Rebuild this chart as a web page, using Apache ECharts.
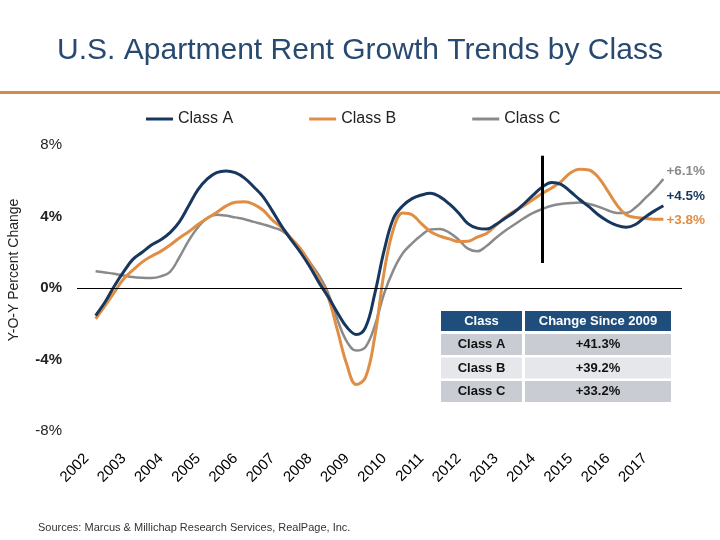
<!doctype html>
<html>
<head>
<meta charset="utf-8">
<title>U.S. Apartment Rent Growth Trends by Class</title>
<script src="https://cdn.jsdelivr.net/npm/echarts@6/dist/echarts.min.js"></script>
<style>
  html, body { margin: 0; padding: 0; background: #fff; }
  #chart { width: 720px; height: 540px; }
</style>
</head>
<body>
<div id="chart"></div>
<script>
// quarterly y-o-y rent growth (%), 2002 Q1 .. 2017 Q2
var firstYear = 2002;
var yearLabels = [2002, 2003, 2004, 2005, 2006, 2007, 2008, 2009, 2010, 2011, 2012, 2013, 2014, 2015, 2016, 2017];
var classA = [
  -1.54, -0.8, 0.1, 0.9, 1.6, 2.0, 2.4, 2.7, 3.1, 3.7, 4.6, 5.5,
  6.1, 6.45, 6.55, 6.45, 6.15, 5.65, 5.1, 4.3, 3.45, 2.7, 2.0, 1.2,
  0.3, -0.5, -1.4, -2.2, -2.6, -2.2, -0.3, 2.1, 3.9, 4.6, 5.0, 5.2,
  5.3, 5.1, 4.7, 4.2, 3.6, 3.35, 3.3, 3.55, 3.9, 4.25, 4.7, 5.2,
  5.65, 5.9, 5.8, 5.4, 4.95, 4.55, 4.1, 3.75, 3.5, 3.4, 3.55, 3.95,
  4.3, 4.6
];
var classB = [
  -1.72, -1.0, -0.25, 0.5, 1.0, 1.45, 1.78, 2.05, 2.4, 2.8, 3.15, 3.55,
  3.9, 4.22, 4.58, 4.8, 4.83, 4.68, 4.35, 3.8, 3.38, 2.78, 2.2, 1.4,
  0.5, -0.55, -2.4, -4.3, -5.4, -5.0, -2.7, 0.9, 3.3, 4.2, 4.1, 3.6,
  3.15, 2.9, 2.75, 2.6, 2.62, 2.85, 3.05, 3.5, 3.95, 4.3, 4.6, 4.95,
  5.3, 5.6, 5.95, 6.44, 6.65, 6.6, 6.2, 5.45, 4.65, 4.1, 3.95, 3.9,
  3.85, 3.85
];
var classC = [
  0.94, 0.87, 0.8, 0.7, 0.61, 0.57, 0.56, 0.65, 0.9, 1.72, 2.65, 3.4,
  3.92, 4.1, 4.05, 3.95, 3.85, 3.7, 3.56, 3.4, 3.2, 2.78, 2.2, 1.45,
  0.7, -0.3, -1.8, -3.0, -3.5, -3.3, -2.1, -0.3, 1.0, 1.94, 2.5, 2.95,
  3.28, 3.3, 3.1, 2.7, 2.2, 2.05, 2.35, 2.8, 3.2, 3.55, 3.9, 4.2,
  4.42, 4.6, 4.7, 4.75, 4.78, 4.7, 4.55, 4.35, 4.2, 4.2, 4.5, 5.0,
  5.5, 6.1
];
var seriesNames = ['Class A', 'Class B', 'Class C'];
var endLabels = ['+4.5%', '+3.8%', '+6.1%'];
var markerYear = 2014;
var markerRange = [1.4, 7.4];

var tableHeader = ['Class', 'Change Since 2009'];
var tableClasses = ['Class A', 'Class B', 'Class C'];
var tableChanges = ['+41.3%', '+39.2%', '+33.2%'];

var colors = ['#17375e', '#e08e45', '#8a8a8a'];
var font = 'Liberation Sans, Arial, sans-serif';

function toPoints(arr) {
  return arr.map(function (v, i) { return [firstYear + i / 4, v]; });
}

var chart = echarts.init(document.getElementById('chart'));

// table graphics
var table = [];
var tx = 441, tw1 = 81, tw2 = 146, gap = 3, th = 20, rh = 21;
var headFont = 'bold 13px ' + font;
var cellFont = 'bold 13px ' + font;
table.push({ type: 'rect', shape: { x: tx, y: 311, width: tw1, height: th }, style: { fill: '#1f4e7d' } });
table.push({ type: 'rect', shape: { x: tx + tw1 + gap, y: 311, width: tw2, height: th }, style: { fill: '#1f4e7d' } });
table.push({ type: 'text', x: tx + tw1 / 2, y: 311 + th / 2, style: { text: tableHeader[0], fill: '#fff', font: headFont, align: 'center', verticalAlign: 'middle' } });
table.push({ type: 'text', x: tx + tw1 + gap + tw2 / 2, y: 311 + th / 2, style: { text: tableHeader[1], fill: '#fff', font: headFont, align: 'center', verticalAlign: 'middle' } });
tableClasses.forEach(function (c, i) {
  var y = 334 + i * (rh + 2.5);
  var bg = i === 1 ? '#e6e7ea' : '#c9ccd2';
  table.push({ type: 'rect', shape: { x: tx, y: y, width: tw1, height: rh }, style: { fill: bg } });
  table.push({ type: 'rect', shape: { x: tx + tw1 + gap, y: y, width: tw2, height: rh }, style: { fill: bg } });
  table.push({ type: 'text', x: tx + tw1 / 2, y: y + rh / 2, style: { text: c, fill: '#111', font: cellFont, align: 'center', verticalAlign: 'middle' } });
  table.push({ type: 'text', x: tx + tw1 + gap + tw2 / 2, y: y + rh / 2, style: { text: tableChanges[i], fill: '#111', font: cellFont, align: 'center', verticalAlign: 'middle' } });
});

var option = {
  animation: false,
  color: colors,
  title: {
    text: 'U.S. Apartment Rent Growth Trends by Class',
    left: 'center',
    top: 31,
    textStyle: { fontFamily: font, fontSize: 30, fontWeight: 'normal', color: '#284a70' }
  },
  legend: {
    data: seriesNames,
    left: 141,
    top: 106,
    icon: 'rect',
    itemWidth: 27,
    itemHeight: 3,
    itemGap: 76,
    textStyle: { fontFamily: font, fontSize: 16, color: '#222' }
  },
  grid: { left: 77, right: 38, top: 145, bottom: 109 },
  xAxis: {
    type: 'value',
    min: 2001.5,
    max: 2017.75,
    interval: 0.5,
    axisLine: { show: false },
    axisTick: { show: false },
    splitLine: { show: false },
    axisLabel: {
      rotate: 45,
      margin: 16,
      padding: [0, 13, 0, 0],
      fontFamily: font,
      fontSize: 15,
      color: '#000',
      formatter: function (v) {
        return yearLabels.indexOf(v) >= 0 ? String(v) : '';
      }
    }
  },
  yAxis: {
    type: 'value',
    min: -8,
    max: 8,
    interval: 4,
    axisLine: { show: false },
    axisTick: { show: false },
    splitLine: { show: false },
    axisLabel: {
      margin: 15,
      formatter: function (v) {
        return (v === 8 || v === -8) ? '{n|' + v + '%}' : '{b|' + v + '%}';
      },
      rich: {
        n: { fontFamily: font, fontSize: 15, color: '#222' },
        b: { fontFamily: font, fontSize: 15, color: '#222', fontWeight: 'bold' }
      }
    }
  },
  graphic: [
    { type: 'rect', shape: { x: 0, y: 91, width: 720, height: 3 }, style: { fill: '#d38a4c' } },
    {
      type: 'text', x: 14, y: 270, rotation: Math.PI / 2,
      style: { text: 'Y-O-Y Percent Change', fill: '#222', font: '14px ' + font, align: 'center', verticalAlign: 'middle' }
    },
    {
      type: 'text', x: 38, y: 522,
      style: { text: 'Sources: Marcus & Millichap Research Services, RealPage, Inc.', fill: '#333', font: '11px ' + font }
    }
  ].concat(table),
  series: [
    {
      name: seriesNames[0], type: 'line', data: toPoints(classA), smooth: 0.4,
      showSymbol: false, z: 4,
      lineStyle: { width: 3, color: colors[0] },
      endLabel: { show: true, formatter: endLabels[0], color: colors[0], fontFamily: font, fontWeight: 'bold', fontSize: 13.5, offset: [0, -9], distance: 3 },
      markLine: {
        silent: true, symbol: 'none', label: { show: false },
        data: [
          { yAxis: 0, lineStyle: { color: '#000', width: 1, type: 'solid' } },
          [
            { coord: [markerYear, markerRange[1]], lineStyle: { color: '#000', width: 3, type: 'solid' } },
            { coord: [markerYear, markerRange[0]] }
          ]
        ]
      }
    },
    {
      name: seriesNames[1], type: 'line', data: toPoints(classB), smooth: 0.4,
      showSymbol: false, z: 3,
      lineStyle: { width: 3, color: colors[1] },
      endLabel: { show: true, formatter: endLabels[1], color: colors[1], fontFamily: font, fontWeight: 'bold', fontSize: 13.5, offset: [0, 1], distance: 3 }
    },
    {
      name: seriesNames[2], type: 'line', data: toPoints(classC), smooth: 0.4,
      showSymbol: false, z: 2,
      lineStyle: { width: 2.5, color: colors[2] },
      endLabel: { show: true, formatter: endLabels[2], color: colors[2], fontFamily: font, fontWeight: 'bold', fontSize: 13.5, offset: [0, -8], distance: 3 }
    }
  ]
};
chart.setOption(option);
</script>
</body>
</html>
